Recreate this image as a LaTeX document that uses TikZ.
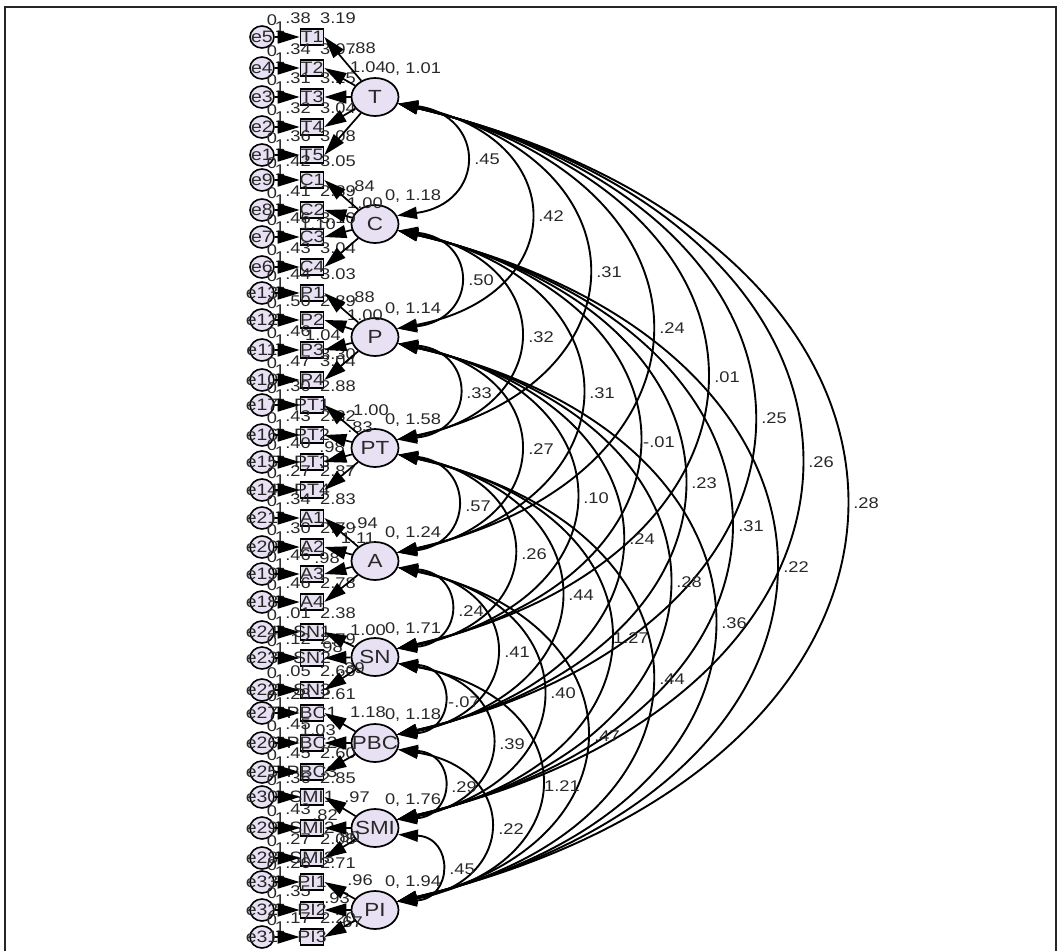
\documentclass[tikz,border=0pt]{standalone}
\usepackage{fontspec}
\setmainfont[FakeStretch=1.18]{Liberation Sans}
\usetikzlibrary{arrows.meta,shapes.geometric}
\definecolor{lav}{RGB}{232,224,243}
\definecolor{txtc}{RGB}{40,40,40}
\newcommand{\covar}[8]{%
  \draw[cov] (#1-d) .. controls +(#3,#4) and +(#3,-#4) .. (#2-u);
  \node[lab] (#8) at (#5+4,#6) {#7};}
\def\indlist{T1/T/37/e5/.38/3.19, T2/T/68/e4/.34/3.07, T3/T/97/e3/.31/3.25, T4/T/127/e2/.32/3.04, T5/T/155/e1/.36/3.08,
C1/C/180/e9/.42/3.05, C2/C/210/e8/.41/2.89, C3/C/237/e7/.46/3.10, C4/C/267/e6/.43/3.04,
P1/P/293/e13/.44/3.03, P2/P/320/e12/.50/2.89, P3/P/350/e11/.46/{}, P4/P/380/e10/.47/3.04,
PT1/PT/405/e17/.30/2.88, PT2/PT/435/e16/.43/2.82, PT3/PT/462/e15/.40/{}, PT4/PT/490/e14/.27/2.87,
A1/A/518/e21/.34/2.83, A2/A/547/e20/.30/2.79, A3/A/574/e19/.46/{}, A4/A/602/e18/.46/2.78,
SN1/SN/632/e24/.01/2.38, SN2/SN/658/e23/.12/2.79, SN3/SN/690/e22/.05/2.60,
PBC1/PBC/713/e27/.28/2.61, PBC2/PBC/743/e26/.45/{}, PBC3/PBC/772/e25/.45/2.60,
SMI1/SMI/797/e30/.36/2.85, SMI2/SMI/828/e29/.43/{}, SMI3/SMI/858/e28/.27/2.08,
PI1/PI/882/e33/.26/2.71, PI2/PI/910/e32/.35/{}, PI3/PI/937/e31/.17/2.20}
\begin{document}
\begin{tikzpicture}[x=1pt,y=-1pt,
  frame/.style={draw=black!85, line width=1.5pt},
  fac/.style={draw=black, line width=1.7pt, fill=lav, ellipse, minimum width=47pt, minimum height=38pt, inner sep=0pt},
  ind/.style={draw=black, line width=1.7pt, fill=lav, rectangle, minimum width=23pt, minimum height=16pt, inner sep=0pt},
  err/.style={draw=black, line width=1.6pt, fill=lav, ellipse, minimum width=24pt, minimum height=22pt, inner sep=0pt},
  ftxt/.style={font=\fontsize{19}{19}\selectfont, text=txtc, inner sep=0pt},
  itxt/.style={font=\fontsize{16.5}{16.5}\selectfont, text=txtc, inner sep=0pt},
  lab/.style={font=\fontsize{15.5}{15.5}\selectfont, text=txtc, inner sep=0pt},
  arr/.style={line width=1.7pt, -{Triangle[length=22pt,width=13pt]}},
  cov/.style={line width=1.9pt, {Triangle[length=20pt,width=12pt]}-{Triangle[length=20pt,width=12pt]}}]
\useasboundingbox (0,0) rectangle (1061,951);
\draw[frame] (5,951) -- (5,7) -- (1056,7) -- (1056,951);
% factors
\foreach \f/\y/\vl in {T/97/{0, 1.01}, C/224/{0, 1.18}, P/337/{0, 1.14}, PT/448/{0, 1.58}, A/561/{0, 1.24}, SN/657/{0, 1.71}, PBC/743/{0, 1.18}, SMI/828/{0, 1.76}, PI/910/{0, 1.94}}{
  \node[fac] (\f) at (375,\y) {};
  \node[ftxt] (\f-t) at (375,\y) {\f};
  \node[lab] (\f-v) at (413,\y-28) {\vl};
  \coordinate (\f-u) at (\f.21);
  \coordinate (\f-d) at (\f.-16);
}
% indicators, errors, header labels
\foreach \n/\f/\y/\e/\v/\i in \indlist {
  \node[ind] (\n) at (312,\y) {};
  \node[itxt] (\n-t) at (312,\y) {\n};
  \node[err] (err-\n) at (262,\y) {};
  \node[itxt] (err-\n-t) at (262,\y) {\e};
  \node[lab] (\n-m) at (272,\y-17) {0};
  \node[lab] (\n-w) at (280,\y-10) {1};
  \node[lab] (\n-v) at (298,\y-19) {\v};
  \node[lab] (\n-i) at (338,\y-19) {\i};
}
% loading labels
\foreach \t/\x/\y [count=\k] in {.88/363/48, 1.04/368/67, .84/362/186, 1.00/365/203, 1.10/318/224,
  .88/362/297, 1.00/365/315, 1.04/323/335, 3.30/338/354, 1.00/371/410, .83/360/427, .98/332/447,
  .94/365/523, 1.11/358/538, .98/327/558, 1.00/368/630, .98/330/647, .39/352/668,
  1.18/368/712, 1.03/318/730, .97/357/797, .82/325/815, .80/347/837, .96/360/880, .93/337/898, .67/350/922}{
  \node[lab] (ld\k) at (\x,\y) {\t};
}
% arrows: error -> indicator, factor -> indicator
\foreach \n/\f/\y/\e/\v/\i in \indlist {
  \draw[arr] (err-\n) -- (\n);
  \draw[arr] (\f) -- (\n.east);
}
% covariances
\foreach \a/\b/\c/\d/\lx/\ly/\t [count=\k] in {
T/C/89/12/483/159/.45, T/P/175/33/547/216/.42, T/PT/252/54/605/272/.31, T/A/336/76/668/328/.24,
T/SN/409/94/723/377/.01, T/PBC/472/110/770/418/.25, T/SMI/535/126/817/462/.26, T/PI/595/142/862/503/.28,
C/P/81/9/477/280/.50, C/PT/161/30/537/337/.32, C/A/243/51/598/393/.31, C/SN/319/70/655/442/-.01,
C/PBC/379/86/700/483/.23, C/SMI/441/102/747/526/.31, C/PI/501/118/792/567/.22,
P/PT/79/8/475/393/.33, P/A/161/30/537/449/.27, P/SN/235/48/592/498/.10, P/PBC/296/65/638/539/.24,
P/SMI/359/81/685/582/.28, P/PI/419/96/730/623/.36,
PT/A/77/9/474/506/.57, PT/SN/152/27/530/554/.26, PT/PBC/215/43/577/595/.44, PT/SMI/281/60/627/638/1.27, PT/PI/336/75/668/679/.44,
A/SN/68/6/467/611/.24, A/PBC/129/22/513/652/.41, A/SMI/191/38/559/693/.40, A/PI/249/54/603/736/.47,
SN/PBC/59/4/460/702/-.07, SN/SMI/123/20/508/744/.39, SN/PI/189/35/558/786/1.21,
PBC/SMI/59/4/460/787/.29, PBC/PI/121/19/507/829/.22, SMI/PI/56/3/458/869/.45}{
  \covar{\a}{\b}{\c}{\d}{\lx}{\ly}{\t}{cv\k}
}
\end{tikzpicture}
\end{document}
